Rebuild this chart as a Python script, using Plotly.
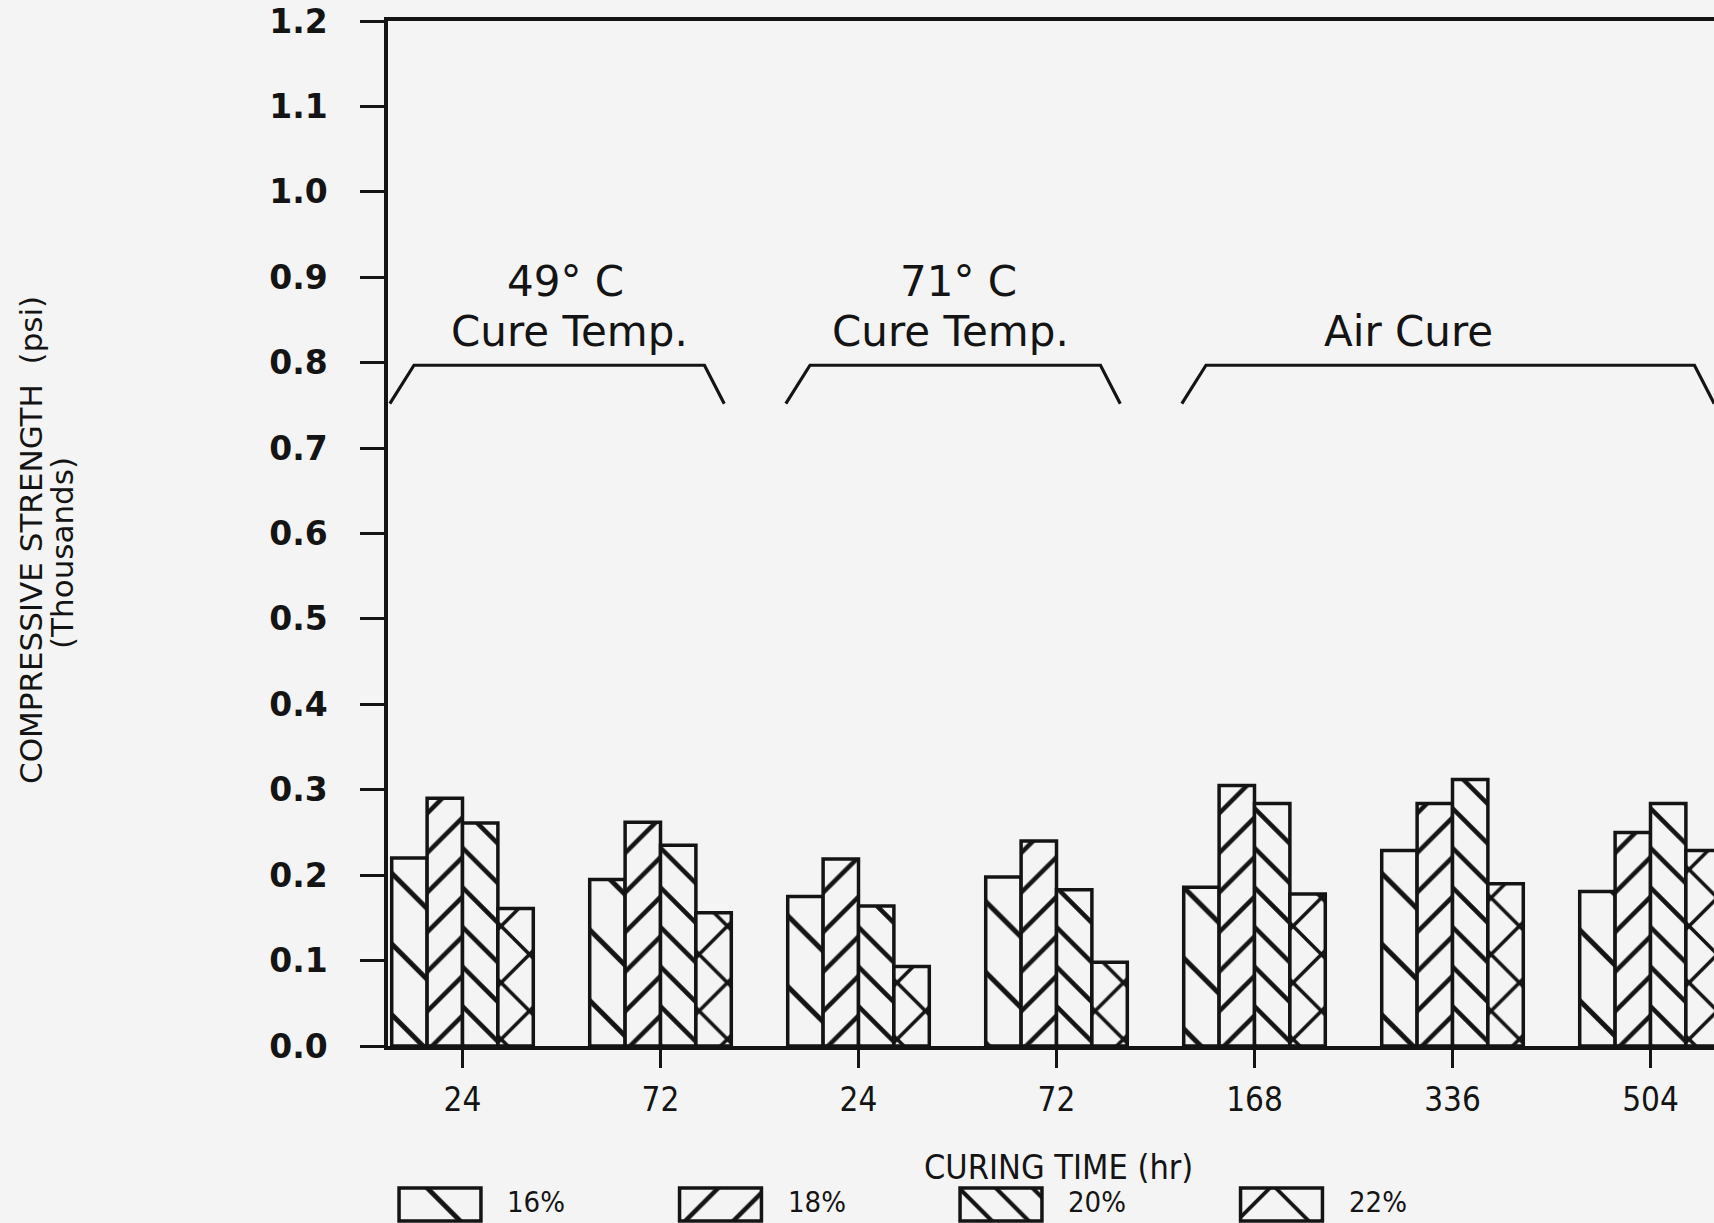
import plotly.graph_objects as go

# ---------------- data ----------------
group_labels = ["24", "72", "24", "72", "168", "336", "504"]
series_names = ["16%", "18%", "20%", "22%"]
s16 = [0.220, 0.195, 0.175, 0.198, 0.186, 0.229, 0.181]
s18 = [0.290, 0.262, 0.219, 0.240, 0.305, 0.284, 0.250]
s20 = [0.261, 0.235, 0.164, 0.183, 0.284, 0.312, 0.284]
s22 = [0.161, 0.156, 0.093, 0.098, 0.178, 0.190, 0.229]
series_values = [s16, s18, s20, s22]

y_tick_values = [0.0, 0.1, 0.2, 0.3, 0.4, 0.5, 0.6, 0.7, 0.8, 0.9, 1.0, 1.1, 1.2]
y_tick_text = ["0.0", "0.1", "0.2", "0.3", "0.4", "0.5", "0.6", "0.7", "0.8", "0.9", "1.0", "1.1", "1.2"]

bracket_groups = [(0, 1), (2, 3), (4, 6)]
bracket_titles = [["49° C", "Cure Temp."], ["71° C", "Cure Temp."], ["Air Cure"]]

y_title_lines = ["COMPRESSIVE STRENGTH  (psi)", "(Thousands)"]
x_title = "CURING TIME (hr)"

# ---------------- style ----------------
W, H = 1714, 1223
BG = "#f4f4f4"
INK = "#141414"
hatch_shapes = ["\\", "/", "\\", "x"]
hatch_sizes = [50, 28, 28, 40]
hatch_solid = [0.10, 0.16, 0.16, 0.17]
legend_hatch_sizes = [60, 34, 26, 60]
legend_hatch_solid = [0.08, 0.13, 0.16, 0.12]

TOP, BOT = 21, 1046          # pixel rows of y=1.2 and y=0
AX_LEFT = 388                # pixel column of y axis
CAT_PX = 198                 # pixels per category
CAT0_PX = 462.5              # pixel of category 0
plot_h = H - TOP
x_lo = -(CAT0_PX - AX_LEFT) / CAT_PX
x_hi = (W - CAT0_PX) / CAT_PX

geo_font = "DejaVu Sans, Verdana, sans-serif"
narrow_font = "Liberation Sans Narrow, DejaVu Sans Condensed, Roboto Condensed, Liberation Sans, sans-serif"


def py(pixel_row):
    return (H - pixel_row) / plot_h


fig = go.Figure()
x_idx = list(range(len(group_labels)))
for k, name in enumerate(series_names):
    fig.add_trace(go.Bar(
        x=x_idx, y=series_values[k], name=name,
        marker=dict(color=BG, line=dict(color=INK, width=3.5),
                    pattern=dict(shape=hatch_shapes[k], size=hatch_sizes[k],
                                 solidity=hatch_solid[k], fgcolor=INK,
                                 bgcolor=BG, fillmode="replace")),
        showlegend=False, hoverinfo="skip"))

# custom legend with big patterned boxes on a hidden secondary axis
fig.add_trace(go.Bar(
    x=list(range(len(series_names))), y=[1] * len(series_names), width=0.292,
    xaxis="x2", yaxis="y2", showlegend=False, hoverinfo="skip",
    marker=dict(color=BG, line=dict(color=INK, width=3.5),
                pattern=dict(shape=hatch_shapes, size=legend_hatch_sizes,
                             solidity=legend_hatch_solid, fgcolor=INK,
                             bgcolor=BG, fillmode="replace"))))

leg_px0, leg_step = 440, 280.5
annotations = []
for k, name in enumerate(series_names):
    annotations.append(dict(x=k + 0.232, y=py(1202), xref="x2", yref="paper", text=name,
                            showarrow=False, xanchor="left", yanchor="middle",
                            font=dict(family=narrow_font, size=29, color=INK)))

# brackets and their titles
foot_y, top_y = 0.752, 0.797
title_pos = [[(0.52, 0.895), (0.54, 0.836)], [(2.505, 0.895), (2.465, 0.836)], [(4.78, 0.836)]]
shapes = []
for (a, b), lines, pos in zip(bracket_groups, bracket_titles, title_pos):
    path = (f"M{a - 0.367},{foot_y} L{a - 0.245},{top_y} "
            f"L{b + 0.222},{top_y} L{b + 0.322},{foot_y}")
    shapes.append(dict(type="path", path=path, xref="x", yref="y",
                       line=dict(color=INK, width=3.2)))
    for txt, (px, pyv) in zip(lines, pos):
        annotations.append(dict(x=px, y=pyv, xref="x", yref="y", text=txt,
                                showarrow=False, xanchor="center", yanchor="middle",
                                font=dict(family=geo_font, size=42, color=INK)))

annotations.append(dict(x=1058 / W, y=py(1167), xref="paper", yref="paper",
                        text=x_title, showarrow=False, xanchor="center", yanchor="middle",
                        font=dict(family=narrow_font, size=34, color=INK)))
for txt, xc, yc in zip(y_title_lines, [31, 62], [540, 553]):
    annotations.append(dict(x=xc / W, y=py(yc), xref="paper", yref="paper",
                            text=txt, showarrow=False, textangle=-90,
                            xanchor="center", yanchor="middle",
                            font=dict(family=geo_font, size=31, color=INK)))

fig.update_layout(
    width=W, height=H, margin=dict(l=0, r=0, t=TOP, b=0, pad=0, autoexpand=False),
    paper_bgcolor=BG, plot_bgcolor=BG,
    barmode="group", bargap=0.285, bargroupgap=0,
    showlegend=False, shapes=shapes, annotations=annotations,
    xaxis=dict(domain=[AX_LEFT / W, 1], range=[x_lo, x_hi], tickmode="array",
               tickvals=x_idx, ticktext=group_labels, ticks="outside", ticklen=18,
               tickwidth=3, tickcolor=INK, showline=True, linewidth=3.5, linecolor=INK,
               mirror=True, showgrid=False, zeroline=False, ticklabelstandoff=4,
               automargin=False,
               tickfont=dict(family=narrow_font, size=33, color=INK)),
    yaxis=dict(domain=[py(BOT), 1], range=[0, 1.2], tickmode="array",
               tickvals=y_tick_values, ticktext=y_tick_text, ticks="outside",
               ticklen=24, tickwidth=3, tickcolor=INK, showline=True, linewidth=3.5,
               linecolor=INK, showgrid=False, zeroline=False, ticklabelstandoff=26,
               automargin=False,
               tickfont=dict(family=geo_font, size=33, color=INK, weight="bold")),
    xaxis2=dict(domain=[0, 1], range=[-leg_px0 / leg_step, (W - leg_px0) / leg_step],
                visible=False, anchor="y2", fixedrange=True, automargin=False),
    yaxis2=dict(domain=[0, 38 / plot_h], range=[-0.06, 1.09], visible=False,
                anchor="x2", fixedrange=True, automargin=False),
)

fig.write_html("out.html")
